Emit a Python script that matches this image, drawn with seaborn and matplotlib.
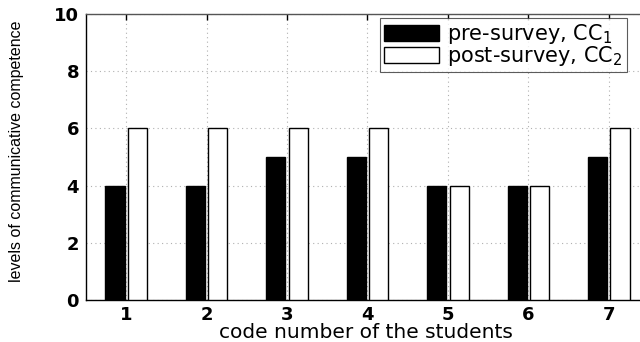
import pandas as pd
import matplotlib.pyplot as plt
import seaborn as sns

students = ['1', '2', '3', '4', '5', '6', '7']
pre_survey = [4, 4, 5, 5, 4, 4, 5]
post_survey = [6, 6, 6, 6, 4, 4, 6]
series_names = ['pre-survey, CC$_1$', 'post-survey, CC$_2$']
level_ticks = [0, 2, 4, 6, 8, 10]

df = pd.DataFrame({
    'student': students * 2,
    'level': pre_survey + post_survey,
    'survey': [series_names[0]] * len(students) + [series_names[1]] * len(students),
})

sns.set_style('white')
plt.rcParams['font.family'] = ['DejaVu Sans']
plt.rcParams['mathtext.fontset'] = 'dejavusans'
plt.rcParams['text.color'] = 'black'
plt.rcParams['axes.labelcolor'] = 'black'
plt.rcParams['xtick.color'] = 'black'
plt.rcParams['ytick.color'] = 'black'

fig = plt.figure(figsize=(6.4, 3.42), dpi=100)
# axes runs past the right edge of the figure, like the cropped original
ax = fig.add_axes([86 / 640, 42 / 342, 563 / 640, 286 / 342])

sns.barplot(data=df, x='student', y='level', hue='survey', order=students,
            hue_order=series_names, palette=['black', 'white'],
            width=0.56, gap=0.15, edgecolor='black', linewidth=1.0,
            ax=ax, zorder=3)

tick_font = dict(fontsize=13, fontweight='bold')
ax.set_xlim(-0.5, 6.5)
ax.set_ylim(0, 10)
ax.set_xticks(range(len(students)), labels=students, **tick_font)
ax.set_yticks(level_ticks, labels=[str(t) for t in level_ticks], **tick_font)
ax.grid(True, linestyle=(0, (1, 3)), color='#b0b0b0', linewidth=0.8, zorder=0)
ax.set_axisbelow(True)

for s in ax.spines.values():
    s.set_visible(True)
    s.set_color('black')
    s.set_linewidth(1.0)
ax.spines['top'].set_color('#555555')

ax.tick_params(axis='both', direction='in', length=4, width=1, top=True, right=True,
               color='black', pad=5)
ax.tick_params(axis='x', pad=4)

ax.set_xlabel('code number of the students', fontsize=14.5, va='baseline')
ax.xaxis.set_label_coords(0.498, -0.133)
ax.set_ylabel('levels of communicative competence', fontsize=11.5,
              family=['Liberation Sans', 'DejaVu Sans'])
ax.yaxis.set_label_coords(-0.11, 0.52)

leg = ax.legend(loc='upper left', bbox_to_anchor=(0.522, 0.986), fontsize=15,
                frameon=True, fancybox=False, edgecolor='#333333',
                handlelength=2.65, handleheight=0.77, borderaxespad=0.0,
                labelspacing=-0.1, borderpad=0.2, handletextpad=0.38)
leg.get_frame().set_linewidth(0.8)
leg.set_zorder(5)

fig.savefig('out.png', dpi=100)
